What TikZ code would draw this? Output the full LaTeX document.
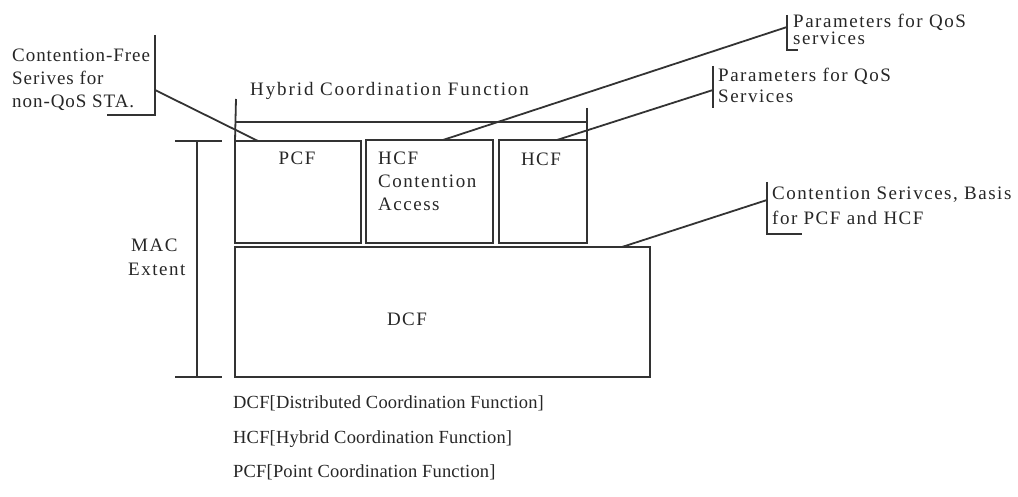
\documentclass[tikz,border=0pt]{standalone}
\usepackage{fontspec}
\setmainfont{Liberation Serif}
\newfontfamily\lblfont[LetterSpace=8]{Liberation Serif}
\newfontfamily\ttlfont[LetterSpace=10]{Liberation Serif}
\newfontfamily\cffont[LetterSpace=5]{Liberation Serif}
\newfontfamily\legfont[LetterSpace=1]{Liberation Serif}
\definecolor{ink}{HTML}{333333}
\definecolor{txt}{HTML}{262626}
\begin{document}
\begin{tikzpicture}[x=1pt,y=-1pt,
  ln/.style={draw=ink,line width=1.8pt},
  box/.style={ln,rectangle,inner sep=0pt,outer sep=0pt,anchor=north west},
  lbl/.style={anchor=base west,inner sep=0pt,text=txt,font=\lblfont\fontsize{19}{23}\selectfont},
  ttl/.style={lbl,font=\ttlfont\fontsize{19}{23}\selectfont},
  cf/.style={lbl,font=\cffont\fontsize{19}{23}\selectfont},
  leg/.style={lbl,font=\legfont\fontsize{18.5}{21}\selectfont},
  clbl/.style={lbl,anchor=base}]
\useasboundingbox (0,0) rectangle (1018,497);
% boxes
\node[box,minimum width=126pt,minimum height=102pt] (pcf) at (235,141) {};
\node[box,minimum width=127pt,minimum height=103pt] (hca) at (366,140) {};
\node[box,minimum width=88pt,minimum height=103pt] (hcf) at (499,140) {};
\node[box,minimum width=415pt,minimum height=130pt] (dcf) at (235,247) {};
% box texts
\node[clbl] (tpcf) at (297,165) {PCF};
\node[lbl] (thca1) at (378,165) {HCF};
\node[lbl] (thca2) at (378,188) {Contention};
\node[lbl] (thca3) at (378,211) {Access};
\node[clbl] (thcf) at (541,166) {HCF};
\node[clbl] (tdcf) at (407,325) {DCF};
% hybrid bracket
\coordinate (hbl) at (236,99);
\coordinate (hbr) at (587,108);
\coordinate (hhl) at (236,122);
\coordinate (hhr) at (587,122);
\draw[ln] (hbl) -- (pcf.north west);
\draw[ln] (hbr) -- (hcf.north east);
\draw[ln] (hhl) -- (hhr);
\node[ttl] (title) at (250,96) {Hybrid Coordination Function};
% MAC extent
\coordinate (macT) at (197,141);
\coordinate (macB) at (197,377);
\coordinate (mtl) at (175,141); \coordinate (mtr) at (222,141);
\coordinate (mbl) at (175,377); \coordinate (mbr) at (222,377);
\draw[ln] (macT) -- (macB);
\draw[ln] (mtl) -- (mtr);
\draw[ln] (mbl) -- (mbr);
\node[lbl] (mac1) at (131,252) {MAC};
\node[lbl] (mac2) at (128,276) {Extent};
% Contention-Free callout
\coordinate (cfT) at (155,35);
\coordinate (cfB) at (155,115);
\coordinate (cfL) at (107,115);
\coordinate (cfM) at (155,90);
\coordinate (pcfT) at (258,141);
\draw[ln] (cfT) -- (cfB) -- (cfL);
\draw[ln] (cfM) -- (pcfT);
\node[cf] (cf1) at (12,62) {Contention-Free};
\node[cf] (cf2) at (12,85) {Serives for};
\node[cf] (cf3) at (12,108) {non-QoS STA.};
% Parameters (top)
\coordinate (p1T) at (787,15);
\coordinate (p1B) at (787,50);
\coordinate (p1R) at (798,50);
\coordinate (p1M) at (787,27);
\coordinate (hcaT) at (443,140);
\draw[ln] (p1T) -- (p1B) -- (p1R);
\draw[ln] (p1M) -- (hcaT);
\node[lbl] (p1a) at (793,28) {Parameters for QoS};
\node[lbl] (p1b) at (793,45) {services};
% Parameters (second)
\coordinate (p2T) at (713,66);
\coordinate (p2B) at (713,108);
\coordinate (p2M) at (713,90);
\coordinate (hcfT) at (557,140);
\draw[ln] (p2T) -- (p2B);
\draw[ln] (p2M) -- (hcfT);
\node[lbl] (p2a) at (718,82) {Parameters for QoS};
\node[lbl] (p2b) at (718,103) {Services};
% Contention services
\coordinate (csT) at (767,182);
\coordinate (csB) at (767,234);
\coordinate (csR) at (802,234);
\coordinate (csM) at (767,200);
\coordinate (dcfT) at (622,247);
\draw[ln] (csT) -- (csB) -- (csR);
\draw[ln] (csM) -- (dcfT);
\node[lbl] (cs1) at (772,200) {Contention Serivces, Basis};
\node[lbl] (cs2) at (772,225) {for PCF and HCF};
% legend
\node[leg] (l1) at (233,408) {DCF[Distributed Coordination Function]};
\node[leg] (l2) at (233,443) {HCF[Hybrid Coordination Function]};
\node[leg] (l3) at (233,477) {PCF[Point Coordination Function]};
\end{tikzpicture}
\end{document}
